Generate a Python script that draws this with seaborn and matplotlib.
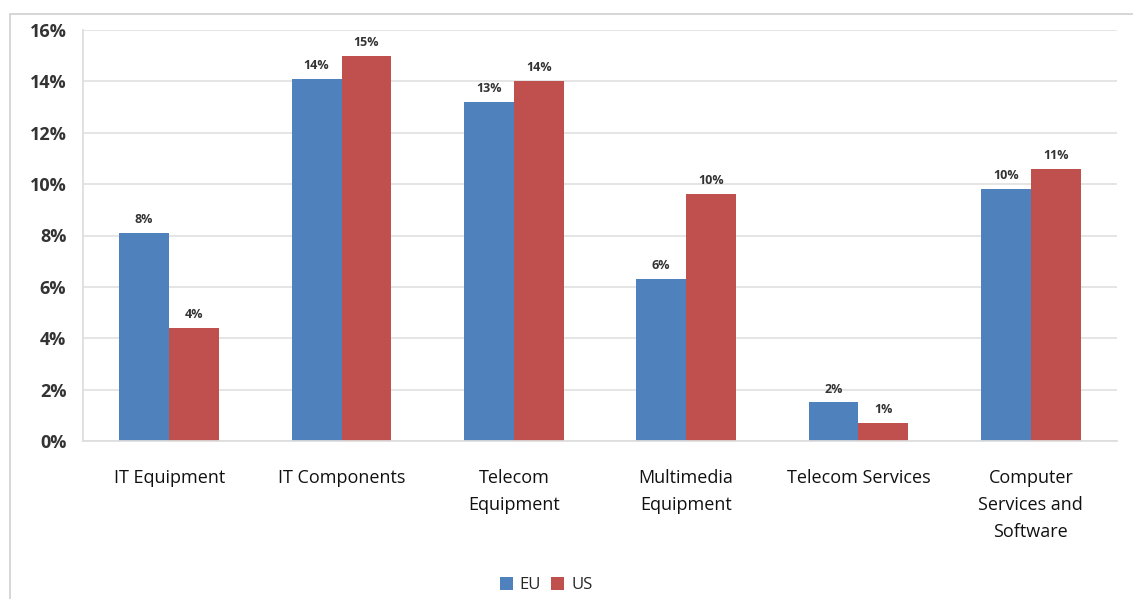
import matplotlib
matplotlib.use("Agg")
import matplotlib.pyplot as plt
import seaborn as sns
import pandas as pd
import numpy as np
from matplotlib.patches import Rectangle

categories = ["IT Equipment", "IT Components", "Telecom\nEquipment",
              "Multimedia\nEquipment", "Telecom Services",
              "Computer\nServices and\nSoftware"]
eu_values = [8.1, 14.1, 13.2, 6.3, 1.5, 9.8]
us_values = [4.4, 15.0, 14.0, 9.6, 0.7, 10.6]
series = ["EU", "US"]
y_ticks = [0, 2, 4, 6, 8, 10, 12, 14, 16]

df = pd.DataFrame({
    "category": categories * 2,
    "value": eu_values + us_values,
    "series": ["EU"] * len(categories) + ["US"] * len(categories),
})

sns.set_theme(style="white")
plt.rcParams["font.family"] = ["Open Sans", "DejaVu Sans"]

fig = plt.figure(figsize=(11.33, 5.99), dpi=100)
ax = fig.add_axes([83 / 1133, 1 - 441 / 599, (1117 - 83) / 1133, (441 - 30) / 599])

sns.barplot(data=df, x="category", y="value", hue="series", order=categories,
            hue_order=series, palette={"EU": "#4F81BD", "US": "#C0504D"},
            width=0.58, ax=ax, saturation=1, legend=True, linewidth=0)

for cont in ax.containers:
    ax.bar_label(cont, labels=[f"{round(v):d}%" for v in cont.datavalues],
                 padding=5, fontsize=9, fontweight="bold", color="#333333")

ax.set_ylim(0, 16)
ax.set_yticks(y_ticks)
ax.set_yticklabels([f"{t}%" for t in y_ticks], fontsize=13, fontweight="bold", color="#333333")
ax.set_xlim(-0.5, len(categories) - 0.5)
ax.set_xlabel("")
ax.set_ylabel("")
ax.tick_params(axis="x", length=0, pad=20, labelsize=13, labelcolor="#111111")
ax.tick_params(axis="y", length=0, pad=12)
ax.set_xticks(np.arange(-0.5, len(categories), 1), minor=True)
ax.tick_params(axis="x", which="minor", length=5, color="#cccccc", direction="out")
ax.yaxis.grid(True, color="#e0e0e0", linewidth=1.2)
ax.set_axisbelow(True)
for s in ["top", "right"]:
    ax.spines[s].set_visible(False)
ax.spines["left"].set_color("#dddddd")
ax.spines["bottom"].set_color("#dddddd")

for lab in ax.get_xticklabels():
    lab.set_verticalalignment("top")
    lab.set_linespacing(1.65)
    lab.set_fontweight("medium")

handles, labels = ax.get_legend_handles_labels()
ax.legend_.remove()
fig.legend(handles, labels, loc="center", bbox_to_anchor=(546 / 1133, 1 - 585 / 599),
           ncol=2, frameon=False, fontsize=12, handlelength=0.8, handleheight=0.8,
           handletextpad=0.4, columnspacing=0.6)

fig.patches.append(Rectangle((10 / 1133, -0.01), 1.1, 1 - 14 / 599 + 0.01,
                             transform=fig.transFigure, fill=False,
                             edgecolor="#d0d0d0", linewidth=1.2))

fig.savefig("out.png", dpi=100, facecolor="white")
